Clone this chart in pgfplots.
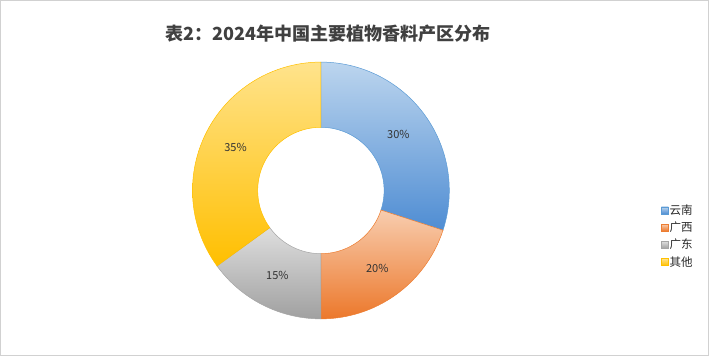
\documentclass[border=0pt]{standalone}
\usepackage{pgfplots}
\pgfplotsset{compat=1.18}
\usepackage{fontspec}
\setmainfont{Noto Sans CJK SC}

\definecolor{ynTop}{HTML}{BCD5EE}\definecolor{ynBot}{HTML}{4F8DD3}\definecolor{ynEdge}{HTML}{5B9BD5}
\definecolor{gxTop}{HTML}{F8CDAF}\definecolor{gxBot}{HTML}{EC782B}\definecolor{gxEdge}{HTML}{ED7D31}
\definecolor{gdTop}{HTML}{DEDEDE}\definecolor{gdBot}{HTML}{A0A0A0}\definecolor{gdEdge}{HTML}{A5A5A5}
\definecolor{qtTop}{HTML}{FFE38C}\definecolor{qtBot}{HTML}{FFBF00}\definecolor{qtEdge}{HTML}{FFC000}
\definecolor{titlegray}{HTML}{404040}

% centre (321,167), outer radius 128, inner radius 63, in pt
% #1 = cumulative share before the slice (%), #2 = share (%), #3 = colour prefix
\newcommand{\donutslice}[3]{%
  \addplot[draw=#3Edge, line width=0.5pt, top color=#3Top, bottom color=#3Bot,
           variable=t, samples at={0,1,...,60,100,101,...,160}]
    ({321 + (t<=60 ? 128 : 63)*cos(t<=60 ? (90-3.6*#1) - 3.6*#2*t/60 : (90-3.6*(#1+#2)) + 3.6*#2*(t-100)/60)},
     {167 + (t<=60 ? 128 : 63)*sin(t<=60 ? (90-3.6*#1) - 3.6*#2*t/60 : (90-3.6*(#1+#2)) + 3.6*#2*(t-100)/60)})
    -- cycle;}
\newcommand{\slicelabel}[2]{%
  \node[font=\fontsize{11}{12}\selectfont, text=black!80] at
    (axis cs:{321+95.5*cos(90-3.6*(#1+#2/2))},{167+95.5*sin(90-3.6*(#1+#2/2))}) {#2\%};}

\begin{document}
\begin{tikzpicture}
\begin{axis}[
  x=1pt, y=1pt, xmin=0, xmax=709, ymin=0, ymax=358,
  scale only axis, hide axis, clip=false,
  legend style={at={(axis cs:657,156)}, anchor=north west, draw=none, fill=none,
    font=\fontsize{11.5}{12}\selectfont, row sep=4pt,
    nodes={inner sep=1pt, text=black!85}},
  legend cell align=left,
  legend image code/.code={\draw[#1, line width=0.4pt] (0pt,-3.5pt) rectangle (7pt,3.5pt);},
]
% frame
\draw[black!18, line width=0.8pt] (axis cs:1.5,2.5) rectangle (axis cs:707.5,356.5);

% shares: 云南 30, 广西 20, 广东 15, 其他 35
\donutslice{0}{30}{yn}
\addlegendentry{云南}
\donutslice{30}{20}{gx}
\addlegendentry{广西}
\donutslice{50}{15}{gd}
\addlegendentry{广东}
\donutslice{65}{35}{qt}
\addlegendentry{其他}

\slicelabel{0}{30}
\slicelabel{30}{20}
\slicelabel{50}{15}
\slicelabel{65}{35}

\node[font=\fontsize{18}{20}\selectfont\bfseries, text=titlegray] at (axis cs:328,323)
  {表2：2024年中国主要植物香料产区分布};
\end{axis}
\end{tikzpicture}
\end{document}
